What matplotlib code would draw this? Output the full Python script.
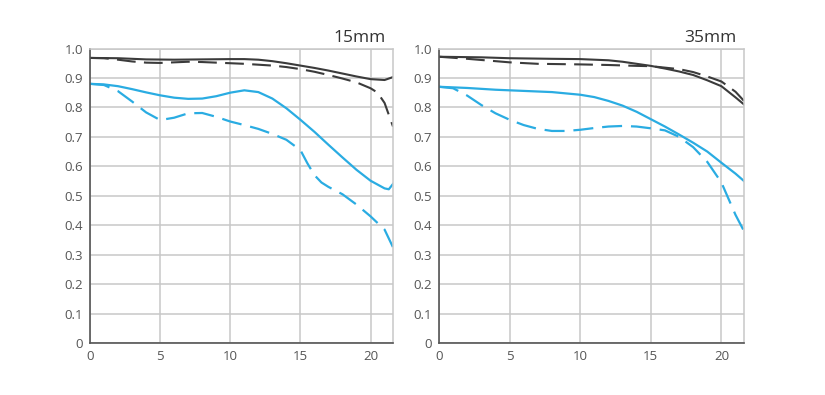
import numpy as np
import matplotlib.pyplot as plt

# 15mm panel
x15_sag = [0, 1, 2, 3, 4, 5, 6, 7, 8, 9, 10, 11, 12, 13, 14, 15, 16, 17, 18, 19, 20, 21, 21.3, 21.6]
blue_solid_15 = [0.880, 0.878, 0.872, 0.862, 0.851, 0.841, 0.833, 0.829, 0.830, 0.838, 0.850, 0.858,
                 0.852, 0.830, 0.797, 0.758, 0.717, 0.673, 0.630, 0.588, 0.551, 0.525, 0.522, 0.540]
x15_bd = [0, 1, 2, 3, 4, 5, 6, 7, 8, 9, 10, 11, 12, 13, 14, 15, 15.5, 16, 16.5, 17, 18, 19, 20, 21, 21.6]
blue_dash_15 = [0.880, 0.876, 0.855, 0.820, 0.783, 0.757, 0.765, 0.780, 0.781, 0.768, 0.752, 0.740,
                0.727, 0.710, 0.690, 0.655, 0.610, 0.570, 0.545, 0.530, 0.505, 0.470, 0.430, 0.385, 0.325]
x15_k = [0, 2, 4, 6, 8, 10, 11, 12, 13, 14, 15, 16, 17, 18, 19, 20, 21, 21.6]
black_solid_15 = [0.968, 0.967, 0.963, 0.962, 0.963, 0.964, 0.964, 0.962, 0.957, 0.950, 0.942, 0.934,
                  0.925, 0.915, 0.905, 0.896, 0.893, 0.903]
x15_kd = [0, 1, 2, 3, 4, 5, 6, 7, 8, 9, 10, 11, 12, 13, 14, 15, 16, 17, 18, 19, 20, 20.5, 21, 21.6]
black_dash_15 = [0.968, 0.967, 0.962, 0.956, 0.952, 0.951, 0.953, 0.955, 0.954, 0.952, 0.950, 0.948,
                 0.945, 0.942, 0.937, 0.930, 0.921, 0.910, 0.898, 0.885, 0.865, 0.850, 0.815, 0.735]

# 35mm panel
x35_bs = [0, 2, 4, 6, 8, 10, 11, 12, 13, 14, 15, 16, 17, 18, 19, 20, 21, 21.6]
blue_solid_35 = [0.870, 0.866, 0.860, 0.856, 0.852, 0.843, 0.835, 0.822, 0.806, 0.785, 0.760, 0.735,
                 0.708, 0.680, 0.650, 0.612, 0.575, 0.550]
x35_bd = [0, 1, 2, 3, 4, 5, 6, 7, 8, 9, 10, 11, 12, 13, 14, 15, 16, 17, 18, 19, 20, 21, 21.6]
blue_dash_35 = [0.870, 0.865, 0.840, 0.808, 0.780, 0.758, 0.740, 0.727, 0.720, 0.720, 0.724, 0.730,
                0.735, 0.737, 0.735, 0.729, 0.722, 0.700, 0.665, 0.615, 0.545, 0.435, 0.380]
x35_k = [0, 3, 5, 8, 10, 12, 13, 14, 15, 16, 17, 18, 19, 20, 21, 21.6]
black_solid_35 = [0.972, 0.970, 0.967, 0.965, 0.964, 0.960, 0.955, 0.948, 0.941, 0.932, 0.922, 0.910,
                  0.892, 0.872, 0.834, 0.810]
x35_kd = [0, 2, 4, 5, 7, 10, 12, 14, 15, 16, 17, 18, 19, 20, 21, 21.6]
black_dash_35 = [0.972, 0.965, 0.957, 0.953, 0.948, 0.946, 0.944, 0.941, 0.940, 0.935, 0.930, 0.920,
                 0.905, 0.888, 0.853, 0.822]

BLUE = '#2aace2'
BLACK = '#3b3b3b'
DASH = (0, (9, 4))

plt.rcParams['font.family'] = ['Open Sans', 'DejaVu Sans']

fig = plt.figure(figsize=(8.25, 3.95), dpi=100)
ax1 = fig.add_axes([90 / 825, 1 - 343 / 395, 303 / 825, 294.5 / 395])
ax2 = fig.add_axes([439 / 825, 1 - 343 / 395, 305 / 825, 294.5 / 395])


def style(ax, title):
    ax.set_xlim(0, 21.6)
    ax.set_ylim(0, 1.0)
    ax.set_xticks([0, 5, 10, 15, 20])
    ax.set_yticks(np.arange(0, 1.01, 0.1))
    ax.set_yticklabels(['0'] + ['%.1f' % v for v in np.arange(0.1, 1.01, 0.1)])
    ax.grid(True, color='#c8c8c8', linewidth=1.1)
    ax.set_axisbelow(True)
    ax.tick_params(length=0, labelsize=9.5, colors='#555555', pad=5)
    for s in ['left', 'bottom']:
        ax.spines[s].set_color('#555555')
        ax.spines[s].set_linewidth(1.2)
    ax.spines['top'].set_color('#c8c8c8')
    ax.spines['right'].set_color('#c8c8c8')
    ax.spines['top'].set_linewidth(1.1)
    ax.spines['right'].set_linewidth(1.1)
    ax.text(0.975, 1.008, title, transform=ax.transAxes, ha='right', va='bottom',
            fontsize=12.5, color='#333333')


ax1.plot(x15_k, black_solid_15, color=BLACK, lw=1.5)
ax1.plot(x15_kd, black_dash_15, color=BLACK, lw=1.5, linestyle=DASH)
ax1.plot(x15_sag, blue_solid_15, color=BLUE, lw=1.6)
ax1.plot(x15_bd, blue_dash_15, color=BLUE, lw=1.6, linestyle=DASH)
style(ax1, '15mm')

ax2.plot(x35_k, black_solid_35, color=BLACK, lw=1.5)
ax2.plot(x35_kd, black_dash_35, color=BLACK, lw=1.5, linestyle=DASH)
ax2.plot(x35_bs, blue_solid_35, color=BLUE, lw=1.6)
ax2.plot(x35_bd, blue_dash_35, color=BLUE, lw=1.6, linestyle=DASH)
style(ax2, '35mm')

fig.savefig('out.png', dpi=100)
